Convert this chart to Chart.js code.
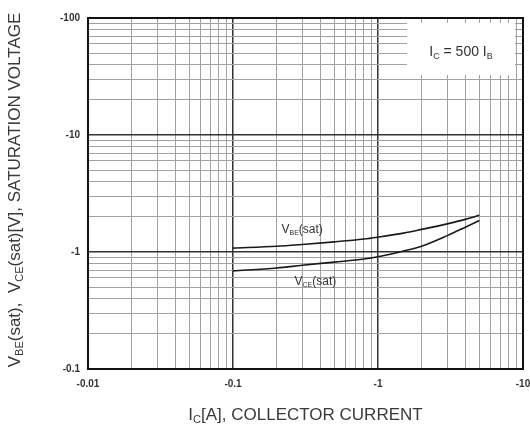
<!DOCTYPE html>
<html>
<head>
<meta charset="utf-8">
<script src="https://cdn.jsdelivr.net/npm/chart.js@4/dist/chart.umd.min.js"></script>
<style>
  body { margin: 0; background: #fff; }
  canvas { display: block; }
</style>
</head>
<body>
<canvas id="chart" width="530" height="430"></canvas>
<script>
// collector current [A] (magnitude, plotted as negative values in the labels)
const currents = [0.1, 0.2, 0.3, 0.5, 0.8, 1, 1.5, 2, 3, 4, 5];
const vbeSat = [1.08, 1.12, 1.16, 1.22, 1.29, 1.34, 1.45, 1.56, 1.74, 1.90, 2.06];
const vceSat = [0.69, 0.73, 0.77, 0.82, 0.87, 0.91, 1.02, 1.12, 1.38, 1.63, 1.86];

const xDecades = [0.01, 0.1, 1, 10];
const xTickLabels = ["-0.01", "-0.1", "-1", "-10"];
const yDecades = [0.1, 1, 10, 100];
const yTickLabels = ["-0.1", "-1", "-10", "-100"];

const FONT = "'Liberation Sans', Arial, sans-serif";

function buildLogTicks(decades) {
  let ticks = [];
  for (let i = 0; i < decades.length - 1; i++) {
    for (let m = 1; m <= 9; m++) {
      ticks.push({ value: decades[i] * m });
    }
  }
  ticks.push({ value: decades[decades.length - 1] });
  return ticks;
}

function isDecade(v) {
  let l = Math.log10(v);
  return Math.abs(l - Math.round(l)) < 1e-9;
}

function toPoints(xs, ys) {
  return xs.map((x, i) => ({ x: x, y: ys[i] }));
}

// draws text made of normal and subscript parts, centred on x
function drawRichText(ctx, parts, x, y, size) {
  let subSize = Math.round(size * 0.62);
  let total = 0;
  parts.forEach((p) => {
    ctx.font = (p.sub ? subSize : size) + "px " + FONT;
    total += ctx.measureText(p.t).width;
  });
  let cx = x - total / 2;
  ctx.textAlign = "left";
  ctx.textBaseline = "middle";
  parts.forEach((p) => {
    ctx.font = (p.sub ? subSize : size) + "px " + FONT;
    ctx.fillText(p.t, cx, p.sub ? y + size * 0.3 : y);
    cx += ctx.measureText(p.t).width;
  });
}

const overlayPlugin = {
  id: "overlay",
  afterDraw(chart) {
    let ctx = chart.ctx;
    let area = chart.chartArea;
    let xs = chart.scales.x;
    let ys = chart.scales.y;
    ctx.save();

    // condition box
    ctx.fillStyle = "#fff";
    ctx.fillRect(area.right - 116, area.top + 5, 108, 52);
    ctx.fillStyle = "#333";
    drawRichText(ctx, [
      { t: "I" }, { t: "C", sub: true }, { t: " = 500 I" }, { t: "B", sub: true }
    ], area.right - 62, area.top + 34, 14);

    // curve labels
    drawRichText(ctx, [{ t: "V" }, { t: "BE", sub: true }, { t: "(sat)" }],
      xs.getPixelForValue(0.3), ys.getPixelForValue(1.55), 12);
    drawRichText(ctx, [{ t: "V" }, { t: "CE", sub: true }, { t: "(sat)" }],
      xs.getPixelForValue(0.37), ys.getPixelForValue(0.555), 12);

    // axis titles
    ctx.fillStyle = "#3a3a3a";
    drawRichText(ctx, [{ t: "I" }, { t: "C", sub: true }, { t: "[A], COLLECTOR CURRENT" }],
      (area.left + area.right) / 2, 415, 17);

    ctx.translate(15, 190);
    ctx.rotate(-Math.PI / 2);
    drawRichText(ctx, [
      { t: "V" }, { t: "BE", sub: true }, { t: "(sat),  V" }, { t: "CE", sub: true },
      { t: "(sat)[V], SATURATION VOLTAGE" }
    ], 0, 0, 17);
    ctx.restore();

    // frame
    ctx.save();
    ctx.strokeStyle = "#111";
    ctx.lineWidth = 2;
    ctx.strokeRect(area.left, area.top, area.right - area.left, area.bottom - area.top);
    ctx.restore();
  }
};

function gridColor(c) {
  return c.tick && isDecade(c.tick.value) ? "#333" : "#a0a0a0";
}

function gridWidth(c) {
  return c.tick && isDecade(c.tick.value) ? 1.5 : 1;
}

new Chart(document.getElementById("chart"), {
  type: "line",
  data: {
    datasets: [
      {
        label: "VBE(sat)",
        data: toPoints(currents, vbeSat),
        borderColor: "#1a1a1a",
        borderWidth: 1.6,
        pointRadius: 0,
        cubicInterpolationMode: "monotone"
      },
      {
        label: "VCE(sat)",
        data: toPoints(currents, vceSat),
        borderColor: "#1a1a1a",
        borderWidth: 1.6,
        pointRadius: 0,
        cubicInterpolationMode: "monotone"
      }
    ]
  },
  options: {
    responsive: false,
    animation: false,
    layout: { padding: { top: 18, right: 7, left: 0, bottom: 0 } },
    plugins: { legend: { display: false }, tooltip: { enabled: false } },
    scales: {
      x: {
        type: "logarithmic",
        min: 0.01,
        max: 10,
        afterBuildTicks: (scale) => { scale.ticks = buildLogTicks(xDecades); },
        afterFit: (scale) => {
          scale.height = 61;
          scale.paddingLeft = 0;
          scale.paddingRight = 0;
        },
        grid: { color: gridColor, lineWidth: gridWidth, drawTicks: false },
        border: { display: false },
        ticks: {
          autoSkip: false,
          maxRotation: 0,
          padding: 9,
          color: "#333",
          font: { family: FONT, size: 10, weight: "bold" },
          callback: (v) => {
            let i = xDecades.indexOf(v);
            return i >= 0 ? xTickLabels[i] : "";
          }
        }
      },
      y: {
        type: "logarithmic",
        min: 0.1,
        max: 100,
        afterBuildTicks: (scale) => { scale.ticks = buildLogTicks(yDecades); },
        afterFit: (scale) => {
          scale.width = 88;
          scale.paddingTop = 0;
          scale.paddingBottom = 0;
        },
        grid: { color: gridColor, lineWidth: gridWidth, drawTicks: false },
        border: { display: false },
        ticks: {
          autoSkip: false,
          padding: 8,
          color: "#333",
          font: { family: FONT, size: 10, weight: "bold" },
          callback: (v) => {
            let i = yDecades.indexOf(v);
            return i >= 0 ? yTickLabels[i] : "";
          }
        }
      }
    }
  },
  plugins: [overlayPlugin]
});
</script>
</body>
</html>
